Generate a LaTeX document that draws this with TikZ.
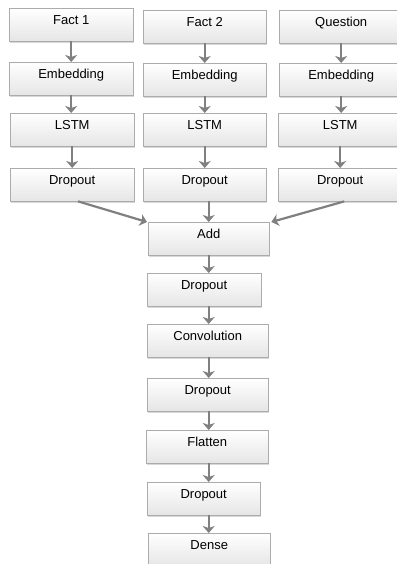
\documentclass[tikz,border=0pt]{standalone}
\usepackage{fontspec}
\setmainfont{Liberation Sans}
\usetikzlibrary{arrows.meta,shadows}
\begin{document}
\begin{tikzpicture}[x=1pt,y=-1pt,
  boite/.style={draw=gray!65, top color=white, bottom color=gray!20, anchor=north west,
    minimum height=33pt, text height=13pt, text depth=14pt, inner sep=3pt,
    font=\fontsize{13}{15}\selectfont,
    drop shadow={shadow xshift=1pt, shadow yshift=-1.5pt, opacity=0.3}},
  fleche/.style={draw=gray, line width=2.2pt, -{Stealth[length=7pt, width=12pt, inset=2pt]}}]
  % Cadre
  \fill[white] (0,0) rectangle (396,564);
  \useasboundingbox (0,0) rectangle (396,564);

  % Trois branches
  \node[boite, minimum width=124pt] (f1) at (9,8) {Fact 1};
  \node[boite, minimum width=123pt] (f2) at (143,10) {Fact 2};
  \node[boite, minimum width=124pt] (q) at (279,10) {Question};
  \node[boite, minimum width=124pt] (e1) at (9,62) {Embedding};
  \node[boite, minimum width=123pt] (e2) at (143,63) {Embedding};
  \node[boite, minimum width=124pt] (e3) at (279,63) {Embedding};
  \node[boite, minimum width=124pt] (l1) at (10,113) {LSTM};
  \node[boite, minimum width=123pt] (l2) at (143,113) {LSTM};
  \node[boite, minimum width=124pt] (l3) at (278,113) {LSTM};
  \node[boite, minimum width=124pt] (d1) at (10,168) {Dropout};
  \node[boite, minimum width=123pt] (d2) at (143,168) {Dropout};
  \node[boite, minimum width=124pt] (d3) at (278,168) {Dropout};

  % Tronc commun
  \node[boite, minimum width=121pt] (add) at (148,222) {Add};
  \node[boite, minimum width=114pt] (dr1) at (147,273) {Dropout};
  \node[boite, minimum width=121pt] (conv) at (147,324) {Convolution};
  \node[boite, minimum width=121pt] (dr2) at (147,378) {Dropout};
  \node[boite, minimum width=122pt] (flat) at (146,430) {Flatten};
  \node[boite, minimum width=113pt] (dr3) at (147,482) {Dropout};
  \node[boite, minimum width=122pt] (dense) at (148,533) {Dense};

  % Fleches
  \foreach \a/\b in {f1/e1, e1/l1, l1/d1, f2/e2, e2/l2, l2/d2, q/e3, e3/l3, l3/d3}
    \draw[fleche] (\a.south) -- (\a.south |- \b.north);
  \foreach \a/\b in {d2/add, add/dr1, dr1/conv, conv/dr2, dr2/flat, flat/dr3, dr3/dense}
    \draw[fleche] (\a.south -| add) -- (\b.north -| add);
  \draw[fleche] ([xshift=6pt]d1.south) -- ([xshift=-1pt]add.north west);
  \draw[fleche] ([xshift=4pt]d3.south) -- ([xshift=2pt]add.north east);
\end{tikzpicture}
\end{document}
